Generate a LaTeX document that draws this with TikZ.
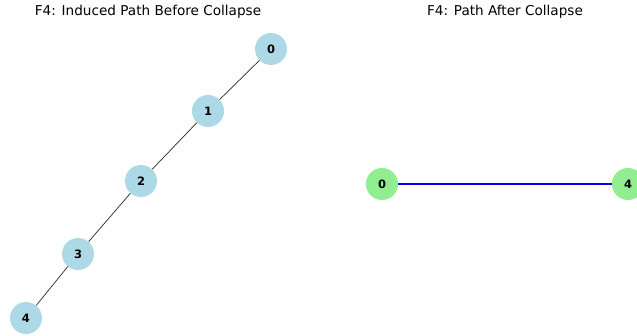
\documentclass[tikz,border=0pt]{standalone}
\usepackage{fontspec}
\setmainfont{DejaVu Sans}
\definecolor{lightblue}{HTML}{ADD8E6}
\definecolor{lightgreen}{HTML}{90EE90}
\tikzset{
  vtx/.style={circle, minimum size=32pt, inner sep=0pt, font=\fontsize{11.5}{13}\selectfont\bfseries},
  before/.style={vtx, fill=lightblue},
  after/.style={vtx, fill=lightgreen},
  heading/.style={font=\fontsize{13.6}{16}\selectfont, inner sep=0pt}
}
\begin{document}
\begin{tikzpicture}[x=1pt,y=-1pt]
      \useasboundingbox (0,0) rectangle (637,336);
      \clip (0,0) rectangle (637,336);
      \node[heading] (title1) at (148,12) {F4: Induced Path Before Collapse};
      \node[heading] (title2) at (505,12) {F4: Path After Collapse};
      \draw
        (271,49) node[before] (b0){0}
        (208,111) node[before] (b1){1}
        (141,181) node[before] (b2){2}
        (78,254) node[before] (b3){3}
        (26,318) node[before] (b4){4};
      \draw
        (382,184) node[after] (a0){0}
        (628,184) node[after] (a4){4};
      \begin{scope}[-, line width=0.7pt, black!85]
        \draw (b0) to (b1);
        \draw (b1) to (b2);
        \draw (b2) to (b3);
        \draw (b3) to (b4);
      \end{scope}
      \begin{scope}[-, line width=1.8pt, blue]
        \draw (a0) to (a4);
      \end{scope}
    \end{tikzpicture}
\end{document}
